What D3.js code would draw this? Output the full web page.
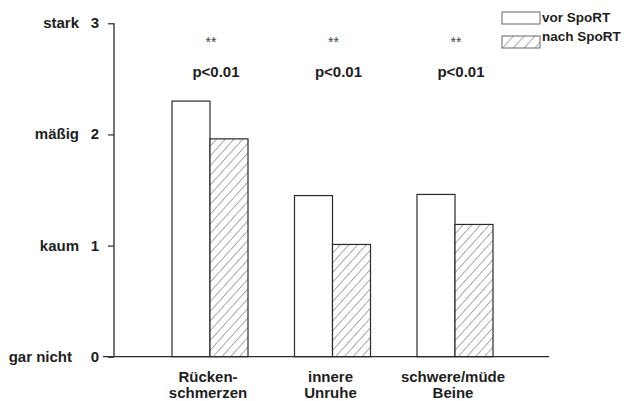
<!DOCTYPE html>
<html>
<head>
<meta charset="utf-8">
<script src="https://cdn.jsdelivr.net/npm/d3@7"></script>
<style>
  html, body { margin: 0; padding: 0; background: #fff; }
  svg { display: block; }
  text { font-family: "Liberation Sans", Arial, sans-serif; fill: #1e1e1e; }
</style>
</head>
<body>
<svg id="chart" width="635" height="401"></svg>
<script>
// Symptom ratings before and after the programme
const categories = [["Rücken-", "schmerzen"], ["innere", "Unruhe"], ["schwere/müde", "Beine"]];
const seriesNames = ["vor SpoRT", "nach SpoRT"];
const vorValues = [2.30, 1.45, 1.46];
const nachValues = [1.96, 1.01, 1.19];
const stars = ["**", "**", "**"];
const pLabels = ["p<0.01", "p<0.01", "p<0.01"];
const tickValues = [0, 1, 2, 3];
const tickWords = ["gar nicht", "kaum", "mäßig", "stark"];

const svg = d3.select("#chart");
const ink = "#2a2a2a";

// Scales
const y = d3.scaleLinear().domain([0, 3]).range([356.7, 23.3]);
const catKeys = categories.map(c => c.join(""));
const xCenter = d3.scalePoint().domain(catKeys).range([210, 455]);
const xSub = d3.scaleBand().domain(seriesNames).range([-38, 38]).padding(0);

// Hatch patterns
const defs = svg.append("defs");
function hatch(id, gap) {
  const p = defs.append("pattern")
    .attr("id", id).attr("patternUnits", "userSpaceOnUse")
    .attr("width", gap).attr("height", gap)
    .attr("patternTransform", "rotate(42)");
  p.append("rect").attr("width", gap).attr("height", gap).attr("fill", "#fff");
  p.append("line").attr("x1", 0).attr("y1", 0).attr("x2", 0).attr("y2", gap)
    .attr("stroke", "#444").attr("stroke-width", 0.9);
}
hatch("hatchBar", 6.5);
hatch("hatchLegend", 8);

// Bars
const rows = catKeys.map((k, i) => ({ key: k, vals: [
  { s: seriesNames[0], v: vorValues[i] },
  { s: seriesNames[1], v: nachValues[i] }
]}));

const groups = svg.append("g").selectAll("g").data(rows).join("g")
  .attr("transform", d => `translate(${xCenter(d.key)},0)`);

groups.selectAll("rect").data(d => d.vals).join("rect")
  .attr("x", d => xSub(d.s))
  .attr("width", xSub.bandwidth())
  .attr("y", d => y(d.v))
  .attr("height", d => y(0) - y(d.v))
  .attr("fill", (d, i) => i === 0 ? "#fff" : "url(#hatchBar)")
  .attr("stroke", ink).attr("stroke-width", 1.2);

// Significance marks
groups.append("text")
  .attr("x", 1).attr("y", 47)
  .attr("text-anchor", "middle")
  .style("font-size", "14px").style("fill", "#444")
  .text((d, i) => stars[i]);

groups.append("text")
  .attr("x", 6).attr("y", 77)
  .attr("text-anchor", "middle")
  .style("font-size", "15px").style("font-weight", "bold")
  .text((d, i) => pLabels[i]);

// Category labels
groups.each(function(d, i) {
  const t = d3.select(this).append("text")
    .attr("text-anchor", "middle")
    .style("font-size", "15px").style("font-weight", "bold");
  categories[i].forEach((line, j) => {
    t.append("tspan").attr("x", -2).attr("y", 382 + j * 16).text(line);
  });
});

// Y axis
const axisX = 114;
const yAxis = d3.axisLeft(y).tickValues(tickValues).tickSize(6).tickFormat("");
const ax = svg.append("g").attr("transform", `translate(${axisX},0)`).call(yAxis);
ax.select(".domain").remove();
ax.selectAll(".tick line").attr("stroke", ink).attr("stroke-width", 1.2);
ax.append("line").attr("x1", 0).attr("x2", 0)
  .attr("y1", y(3)).attr("y2", y(0))
  .attr("stroke", ink).attr("stroke-width", 1.3);

// Tick numbers and words
svg.append("g").selectAll("text.num").data(tickValues).join("text")
  .attr("class", "num")
  .attr("x", 99).attr("y", d => y(d) + 5)
  .attr("text-anchor", "end")
  .style("font-size", "15px").style("font-weight", "bold")
  .text(d => d);

svg.append("g").selectAll("text.word").data(tickWords).join("text")
  .attr("class", "word")
  .attr("x", (d, i) => i === 0 ? 72 : 79).attr("y", (d, i) => y(tickValues[i]) + 5)
  .attr("text-anchor", "end")
  .style("font-size", "15px").style("font-weight", "bold")
  .text(d => d);

// Baseline
svg.append("line")
  .attr("x1", 103).attr("x2", 549)
  .attr("y1", y(0)).attr("y2", y(0))
  .attr("stroke", ink).attr("stroke-width", 1.3);

// Legend
const legend = svg.append("g").attr("transform", "translate(502,12)");
const legItems = legend.selectAll("g").data(seriesNames).join("g")
  .attr("transform", (d, i) => `translate(0,${i * 24})`);
legItems.append("rect")
  .attr("width", 38).attr("height", 12)
  .attr("fill", (d, i) => i === 0 ? "#fff" : "url(#hatchLegend)")
  .attr("stroke", "#666").attr("stroke-width", 1);
legItems.append("text")
  .attr("x", 40).attr("y", (d, i) => i === 0 ? 10 : 5)
  .style("font-size", "13.5px").style("font-weight", "bold")
  .text(d => d);
</script>
</body>
</html>
